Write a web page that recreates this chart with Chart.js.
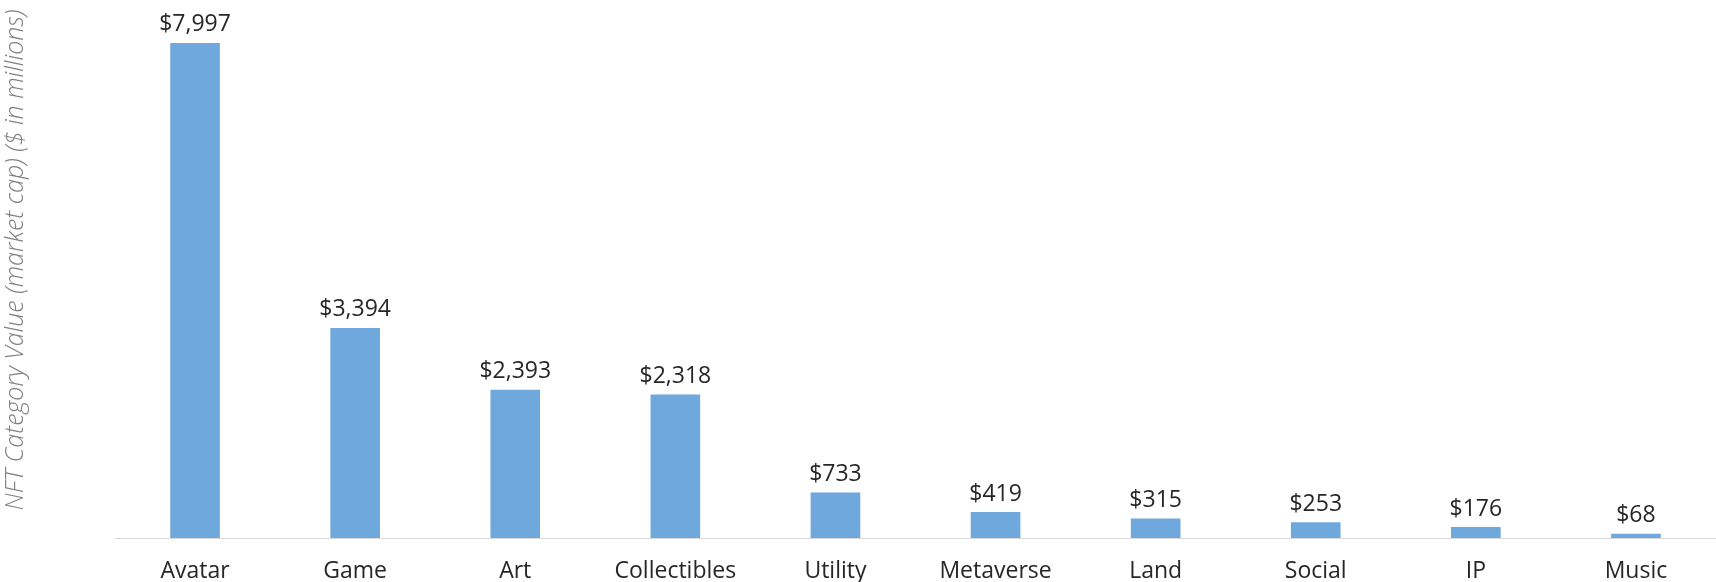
<!DOCTYPE html>
<html>
<head>
<meta charset="utf-8">
<script src="https://cdn.jsdelivr.net/npm/chart.js@4"></script>
<style>
    html, body { margin: 0; padding: 0; background: #ffffff; overflow: hidden; }
    #wrap { width: 1716px; height: 582px; }
</style>
</head>
<body>
<div id="wrap"><canvas id="nftChart" width="1716" height="582"></canvas></div>
<script>
// Chart data
const categories = ['Avatar', 'Game', 'Art', 'Collectibles', 'Utility', 'Metaverse', 'Land', 'Social', 'IP', 'Music'];
const marketCaps = [7997, 3394, 2393, 2318, 733, 419, 315, 253, 176, 68];
const yAxisTitle = 'NFT Category Value (market cap) ($ in millions)';

// Draws "$x,xxx" above each bar
const valueLabels = {
    id: 'valueLabels',
    afterDatasetsDraw(chart) {
        const ctx = chart.ctx;
        const meta = chart.getDatasetMeta(0);
        ctx.save();
        ctx.font = '23px "Open Sans"';
        ctx.fillStyle = '#262626';
        ctx.textAlign = 'center';
        ctx.textBaseline = 'middle';
        meta.data.forEach((bar, i) => {
            ctx.fillText('$' + marketCaps[i].toLocaleString('en-US'), bar.x, bar.y - 18);
        });
        ctx.restore();
    }
};

// Rotated y-axis title, placed a bit above the plot centre like the original
const sideTitle = {
    id: 'sideTitle',
    afterDraw(chart) {
        const ctx = chart.ctx;
        ctx.save();
        ctx.translate(16, 260);
        ctx.rotate(-Math.PI / 2);
        ctx.font = 'italic 300 25px "Open Sans"';
        ctx.fillStyle = '#808080';
        ctx.textAlign = 'center';
        ctx.textBaseline = 'middle';
        ctx.fillText(yAxisTitle, 0, 0);
        ctx.restore();
    }
};

const ctx = document.getElementById('nftChart').getContext('2d');

new Chart(ctx, {
    type: 'bar',
    data: {
        labels: categories,
        datasets: [{
            data: marketCaps,
            backgroundColor: '#6fa8dc',
            barPercentage: 0.31,
            categoryPercentage: 1.0
        }]
    },
    options: {
        responsive: false,
        animation: false,
        layout: { padding: 0 },
        plugins: {
            legend: { display: false },
            tooltip: { enabled: false }
        },
        scales: {
            x: {
                grid: { display: false, drawTicks: false },
                border: { display: true, color: '#d9d9d9', width: 1 },
                ticks: {
                    color: '#262626',
                    font: { family: '"Open Sans"', size: 23 },
                    padding: 20,
                    maxRotation: 0
                },
                afterFit(scale) { scale.height = 44; }
            },
            y: {
                min: 0,
                max: 8690,
                grid: { display: false, drawTicks: false },
                border: { display: false },
                ticks: { display: false },
                afterFit(scale) { scale.width = 115; }
            }
        }
    },
    plugins: [valueLabels, sideTitle]
});
</script>
</body>
</html>
